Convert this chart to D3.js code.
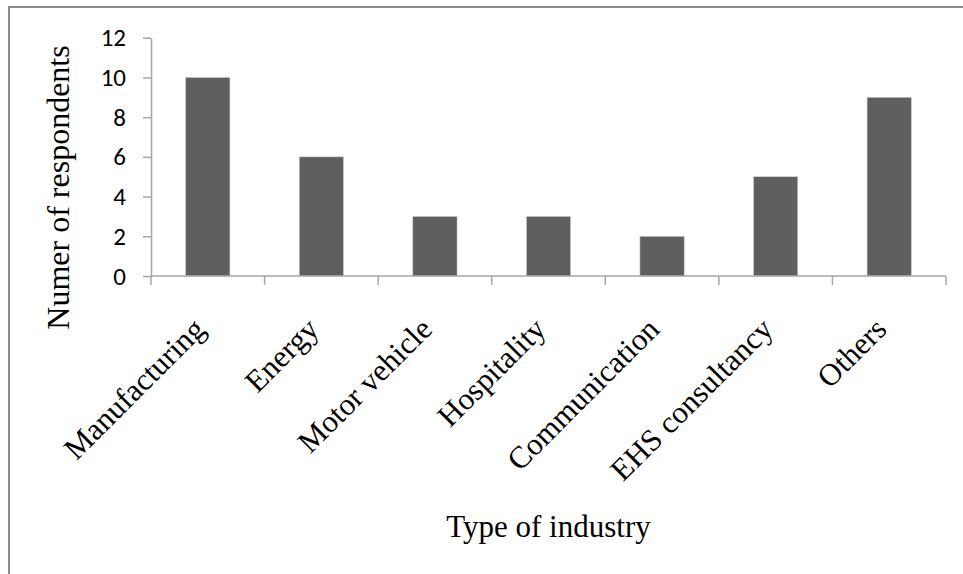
<!DOCTYPE html>
<html>
<head>
<meta charset="utf-8">
<script src="https://cdn.jsdelivr.net/npm/d3@7/dist/d3.min.js"></script>
<style>
  html, body { margin: 0; padding: 0; background: #fff; }
  svg { display: block; }
</style>
</head>
<body>
<svg id="chart" width="963" height="574"></svg>
<script>
// Respondents by type of industry
const categories = ["Manufacturing", "Energy", "Motor vehicle", "Hospitality", "Communication", "EHS consultancy", "Others"];
const respondents = [10, 6, 3, 3, 2, 5, 9];
const yTicks = [0, 2, 4, 6, 8, 10, 12];
const xTitle = "Type of industry";
const yTitle = "Numer of respondents";

const svg = d3.select("#chart");
const W = 963, H = 574;
const plot = { left: 151, right: 946, top: 37.7, bottom: 276 };

// outer frame: visible on top and left edges
svg.append("path")
  .attr("d", `M9,${H + 2} L9,7 L${W + 2},7`)
  .attr("fill", "none")
  .attr("stroke", "#8a8a8a")
  .attr("stroke-width", 2);

const x = d3.scaleBand()
  .domain(categories)
  .range([plot.left, plot.right])
  .paddingInner(0.61)
  .paddingOuter(0.305);

const xCat = d3.scaleBand()
  .domain(categories)
  .range([plot.left, plot.right]);

const y = d3.scaleLinear()
  .domain([0, 12])
  .range([plot.bottom, plot.top]);

// bars
svg.append("g")
  .selectAll("rect")
  .data(categories.map((c, i) => ({ c, v: respondents[i] })))
  .join("rect")
  .attr("x", d => x(d.c))
  .attr("y", d => y(d.v))
  .attr("width", x.bandwidth())
  .attr("height", d => y(0) - y(d.v))
  .attr("fill", "#5f5f5f")
  .attr("stroke", "#cfcfcf")
  .attr("stroke-width", 0.6);

// y axis
const yAxis = svg.append("g")
  .attr("transform", `translate(${plot.left},0)`)
  .call(d3.axisLeft(y).tickValues(yTicks).tickSize(8).tickPadding(17).tickSizeOuter(0));
yAxis.select(".domain").attr("stroke", "#a6a6a6").attr("stroke-width", 1.5);
yAxis.selectAll(".tick line").attr("stroke", "#a6a6a6").attr("stroke-width", 1.5);
yAxis.selectAll(".tick text")
  .attr("fill", "#000")
  .style("font-family", "Carlito, 'Liberation Sans', Arial, sans-serif")
  .style("font-size", "25px");

// x axis baseline with boundary ticks between categories
const xg = svg.append("g");
xg.append("line")
  .attr("x1", plot.left).attr("x2", plot.right)
  .attr("y1", y(0)).attr("y2", y(0))
  .attr("stroke", "#a6a6a6").attr("stroke-width", 1.5);
const bounds = categories.map(c => xCat(c)).concat([plot.right]);
xg.selectAll("line.tk")
  .data(bounds)
  .join("line")
  .attr("class", "tk")
  .attr("x1", d => d).attr("x2", d => d)
  .attr("y1", y(0)).attr("y2", y(0) + 9)
  .attr("stroke", "#a6a6a6").attr("stroke-width", 1.5);

// rotated category labels
xg.selectAll("text.cat")
  .data(categories)
  .join("text")
  .attr("class", "cat")
  .attr("transform", d => `translate(${xCat(d) + xCat.bandwidth() / 2 - 1},${y(0) + 55}) rotate(-45)`)
  .attr("text-anchor", "end")
  .style("font-family", "'Liberation Serif', 'Times New Roman', serif")
  .style("font-size", "31px")
  .attr("fill", "#000")
  .text(d => d);

// axis titles
svg.append("text")
  .attr("x", (plot.left + plot.right) / 2 + 0)
  .attr("y", 537)
  .attr("text-anchor", "middle")
  .style("font-family", "'Liberation Serif', 'Times New Roman', serif")
  .style("font-size", "31px")
  .attr("fill", "#000")
  .text(xTitle);

svg.append("text")
  .attr("transform", `translate(69,${(43 + 332) / 2}) rotate(-90)`)
  .attr("text-anchor", "middle")
  .style("font-family", "'Liberation Serif', 'Times New Roman', serif")
  .style("font-size", "32px")
  .attr("fill", "#000")
  .text(yTitle);
</script>
</body>
</html>
